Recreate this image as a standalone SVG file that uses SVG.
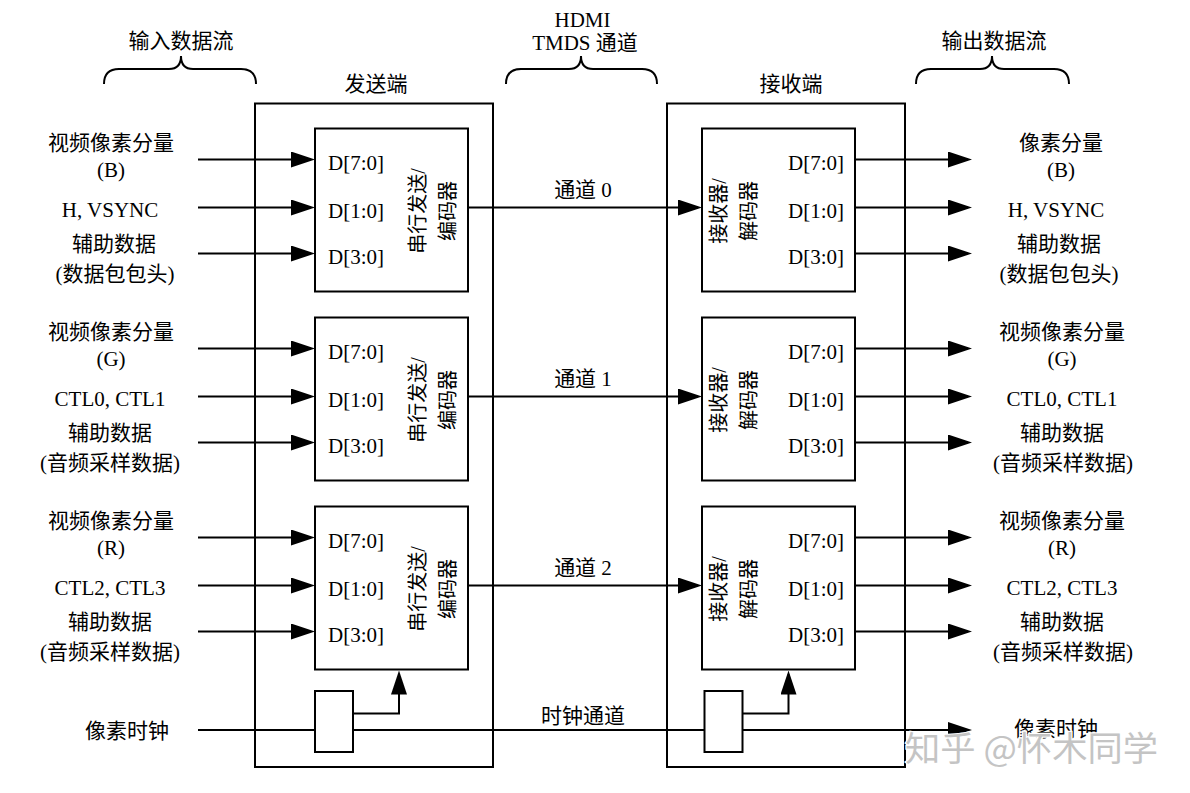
<svg xmlns="http://www.w3.org/2000/svg" width="1190" height="793" viewBox="0 0 1190 793">
<style>
.ln{stroke:#000;stroke-width:2;fill:none}
.box{stroke:#000;stroke-width:2;fill:#fff}
.frame{stroke:#000;stroke-width:2;fill:none}
.t{font-family:"Liberation Serif","Noto Sans CJK SC",serif;font-size:21px;fill:#000}
.v{font-family:"Liberation Serif","Noto Sans CJK SC",serif;font-size:20px;fill:#000;text-anchor:middle}
.c{text-anchor:middle}
.e{text-anchor:end}
.wm{font-family:"Noto Sans CJK SC",sans-serif;font-size:34px;fill:#c4c4c4;stroke:#fff;stroke-width:2.5;paint-order:stroke}
</style>
<defs>
<marker id="ah" markerUnits="userSpaceOnUse" markerWidth="24" markerHeight="16" refX="20" refY="8" orient="auto">
<path d="M0,0 L24,8 L0,16 z" fill="#000"/>
</marker>
</defs>
<rect width="1190" height="793" fill="#fff"/>

<g id="headers">
<text class="t c" x="181" y="48">输入数据流</text>
<path class="ln" d="M104,84 Q104,69 119,69 H169 Q181,69 181,56 Q181,69 193,69 H241 Q256,69 256,84"/>
<text class="t c" x="582.5" y="27">HDMI</text>
<text class="t c" x="585" y="50">TMDS 通道</text>
<path class="ln" d="M506,84 Q506,69 521,69 H569 Q581,69 581,56 Q581,69 593,69 H642 Q657,69 657,84"/>
<text class="t c" x="994" y="48">输出数据流</text>
<path class="ln" d="M916,84 Q916,69 931,69 H980 Q992,69 992,56 Q992,69 1004,69 H1054 Q1069,69 1069,84"/>
</g>

<g id="transmitter">
<rect class="frame" x="255" y="103.5" width="238" height="663.5"/>
<text class="t c" x="376" y="91">发送端</text>
</g>
<g id="receiver">
<rect class="frame" x="667" y="103.5" width="238" height="663.5"/>
<text class="t c" x="791" y="91">接收端</text>
</g>

<g id="connectors">
<line class="ln" x1="198" y1="159.5" x2="311" y2="159.5" marker-end="url(#ah)"/>
<line class="ln" x1="198" y1="207.5" x2="311" y2="207.5" marker-end="url(#ah)"/>
<line class="ln" x1="198" y1="253.5" x2="311" y2="253.5" marker-end="url(#ah)"/>
<line class="ln" x1="198" y1="348.5" x2="311" y2="348.5" marker-end="url(#ah)"/>
<line class="ln" x1="198" y1="396.5" x2="311" y2="396.5" marker-end="url(#ah)"/>
<line class="ln" x1="198" y1="442.5" x2="311" y2="442.5" marker-end="url(#ah)"/>
<line class="ln" x1="198" y1="537.5" x2="311" y2="537.5" marker-end="url(#ah)"/>
<line class="ln" x1="198" y1="585.5" x2="311" y2="585.5" marker-end="url(#ah)"/>
<line class="ln" x1="198" y1="631.5" x2="311" y2="631.5" marker-end="url(#ah)"/>
<line class="ln" x1="468" y1="207.5" x2="698" y2="207.5" marker-end="url(#ah)"/>
<line class="ln" x1="468" y1="396.5" x2="698" y2="396.5" marker-end="url(#ah)"/>
<line class="ln" x1="468" y1="585.5" x2="698" y2="585.5" marker-end="url(#ah)"/>
<line class="ln" x1="855" y1="159.5" x2="968" y2="159.5" marker-end="url(#ah)"/>
<line class="ln" x1="855" y1="207.5" x2="968" y2="207.5" marker-end="url(#ah)"/>
<line class="ln" x1="855" y1="253.5" x2="968" y2="253.5" marker-end="url(#ah)"/>
<line class="ln" x1="855" y1="348.5" x2="968" y2="348.5" marker-end="url(#ah)"/>
<line class="ln" x1="855" y1="396.5" x2="968" y2="396.5" marker-end="url(#ah)"/>
<line class="ln" x1="855" y1="442.5" x2="968" y2="442.5" marker-end="url(#ah)"/>
<line class="ln" x1="855" y1="537.5" x2="968" y2="537.5" marker-end="url(#ah)"/>
<line class="ln" x1="855" y1="585.5" x2="968" y2="585.5" marker-end="url(#ah)"/>
<line class="ln" x1="855" y1="631.5" x2="968" y2="631.5" marker-end="url(#ah)"/>
<line class="ln" x1="198" y1="730" x2="316" y2="730"/>
<line class="ln" x1="353" y1="730" x2="705" y2="730"/>
<line class="ln" x1="742" y1="730" x2="968" y2="730" marker-end="url(#ah)"/>
<polyline class="ln" points="353,713.5 399,713.5 399,674.5" marker-end="url(#ah)"/>
<polyline class="ln" points="742,713.5 788.5,713.5 788.5,674.5" marker-end="url(#ah)"/>
</g>

<g id="tx-enc0">
<rect class="box" x="315" y="128.5" width="153" height="163"/>
<text class="t" x="328" y="170">D[7:0]</text>
<text class="t" x="328" y="218">D[1:0]</text>
<text class="t" x="328" y="264">D[3:0]</text>
<text class="v" transform="rotate(-90)" x="-211" y="424.6">串行发送/</text>
<text class="v" transform="rotate(-90)" x="-211" y="454.6">编码器</text>
</g>
<g id="tx-enc1">
<rect class="box" x="315" y="317.5" width="153" height="163"/>
<text class="t" x="328" y="359">D[7:0]</text>
<text class="t" x="328" y="407">D[1:0]</text>
<text class="t" x="328" y="453">D[3:0]</text>
<text class="v" transform="rotate(-90)" x="-400" y="424.6">串行发送/</text>
<text class="v" transform="rotate(-90)" x="-400" y="454.6">编码器</text>
</g>
<g id="tx-enc2">
<rect class="box" x="315" y="506.5" width="153" height="163"/>
<text class="t" x="328" y="548">D[7:0]</text>
<text class="t" x="328" y="596">D[1:0]</text>
<text class="t" x="328" y="642">D[3:0]</text>
<text class="v" transform="rotate(-90)" x="-589" y="424.6">串行发送/</text>
<text class="v" transform="rotate(-90)" x="-589" y="454.6">编码器</text>
</g>
<g id="tx-clk">
<rect class="box" x="315" y="691" width="38" height="61"/>
</g>

<g id="rx-dec0">
<rect class="box" x="702" y="128.5" width="153" height="163"/>
<text class="t e" x="844" y="170">D[7:0]</text>
<text class="t e" x="844" y="218">D[1:0]</text>
<text class="t e" x="844" y="264">D[3:0]</text>
<text class="v" transform="rotate(-90)" x="-211" y="725.6">接收器/</text>
<text class="v" transform="rotate(-90)" x="-211" y="755.6">解码器</text>
</g>
<g id="rx-dec1">
<rect class="box" x="702" y="317.5" width="153" height="163"/>
<text class="t e" x="844" y="359">D[7:0]</text>
<text class="t e" x="844" y="407">D[1:0]</text>
<text class="t e" x="844" y="453">D[3:0]</text>
<text class="v" transform="rotate(-90)" x="-400" y="725.6">接收器/</text>
<text class="v" transform="rotate(-90)" x="-400" y="755.6">解码器</text>
</g>
<g id="rx-dec2">
<rect class="box" x="702" y="506.5" width="153" height="163"/>
<text class="t e" x="844" y="548">D[7:0]</text>
<text class="t e" x="844" y="596">D[1:0]</text>
<text class="t e" x="844" y="642">D[3:0]</text>
<text class="v" transform="rotate(-90)" x="-589" y="725.6">接收器/</text>
<text class="v" transform="rotate(-90)" x="-589" y="755.6">解码器</text>
</g>
<g id="rx-clk">
<rect class="box" x="704.5" y="691" width="38" height="61"/>
</g>

<g id="channel-labels">
<text class="t c" x="583" y="197">通道 0</text>
<text class="t c" x="583" y="386">通道 1</text>
<text class="t c" x="583" y="575">通道 2</text>
<text class="t c" x="583" y="723">时钟通道</text>
</g>

<g id="inputs">
<text class="t c" x="111" y="150">视频像素分量</text>
<text class="t c" x="111" y="177">(B)</text>
<text class="t c" x="110" y="217">H, VSYNC</text>
<text class="t c" x="114" y="251">辅助数据</text>
<text class="t c" x="115" y="281">(数据包包头)</text>
<text class="t c" x="111" y="339">视频像素分量</text>
<text class="t c" x="111" y="366">(G)</text>
<text class="t c" x="110" y="406">CTL0, CTL1</text>
<text class="t c" x="110" y="440">辅助数据</text>
<text class="t c" x="110" y="470">(音频采样数据)</text>
<text class="t c" x="111" y="528">视频像素分量</text>
<text class="t c" x="111" y="555">(R)</text>
<text class="t c" x="110" y="595">CTL2, CTL3</text>
<text class="t c" x="110" y="629">辅助数据</text>
<text class="t c" x="110" y="659">(音频采样数据)</text>
<text class="t c" x="127" y="738">像素时钟</text>
</g>

<g id="outputs">
<text class="t c" x="1061" y="150">像素分量</text>
<text class="t c" x="1061" y="177">(B)</text>
<text class="t c" x="1056" y="217">H, VSYNC</text>
<text class="t c" x="1059" y="251">辅助数据</text>
<text class="t c" x="1059" y="281">(数据包包头)</text>
<text class="t c" x="1062" y="339">视频像素分量</text>
<text class="t c" x="1062" y="366">(G)</text>
<text class="t c" x="1062" y="406">CTL0, CTL1</text>
<text class="t c" x="1062" y="440">辅助数据</text>
<text class="t c" x="1063" y="470">(音频采样数据)</text>
<text class="t c" x="1062" y="528">视频像素分量</text>
<text class="t c" x="1062" y="555">(R)</text>
<text class="t c" x="1062" y="595">CTL2, CTL3</text>
<text class="t c" x="1062" y="629">辅助数据</text>
<text class="t c" x="1063" y="659">(音频采样数据)</text>
<text class="t c" x="1056" y="736">像素时钟</text>
</g>

<g id="watermark">
<text class="wm" x="905" y="761" textLength="253" lengthAdjust="spacingAndGlyphs">知乎 @怀木同学</text>
</g>
</svg>
